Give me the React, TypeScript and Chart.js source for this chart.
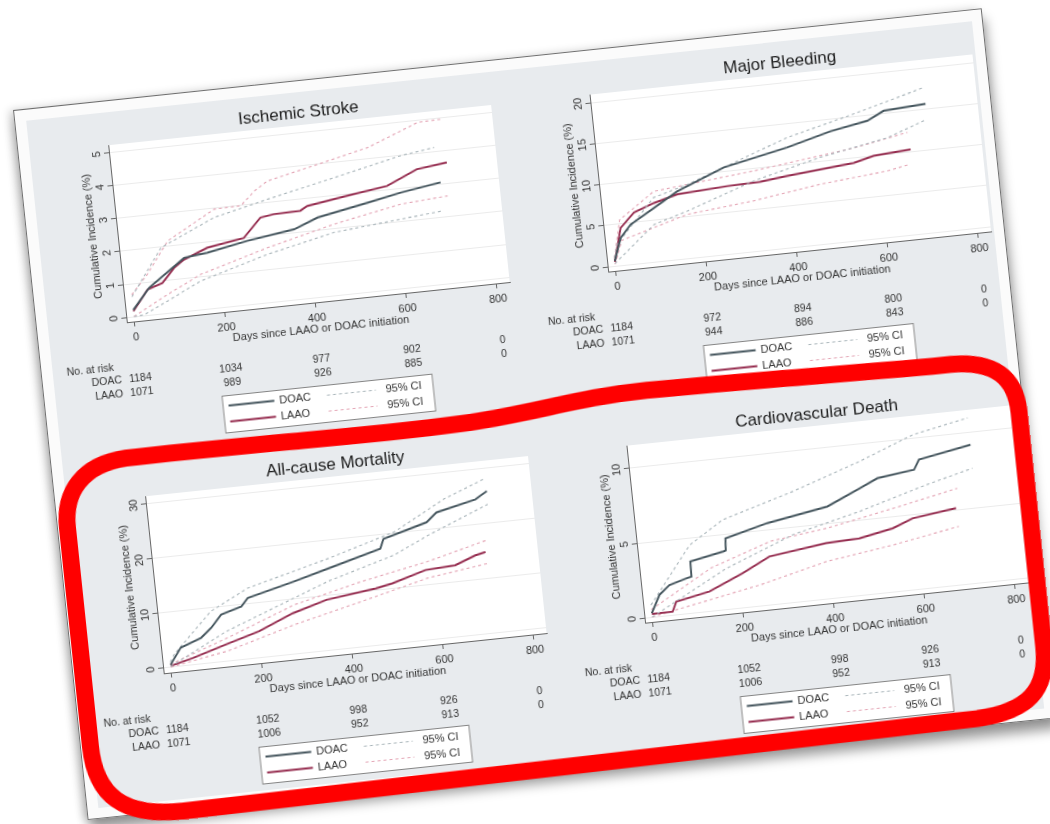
import { useEffect, useRef } from 'react';
import { Chart, registerables } from 'chart.js';

Chart.register(...registerables);

type Pt = [number, number];

// ---- shared axis / table labels ----
const DAY_TICKS = [0, 200, 400, 600, 800];
const RISK_DAYS = [0, 200, 400, 600, 800];
const GROUP_NAMES = ['DOAC', 'LAAO'];
const CI_LABEL = '95% CI';
const X_TITLE = 'Days since LAAO or DOAC initiation';
const Y_TITLE = 'Cumulative Incidence (%)';
const RISK_HEADER = 'No. at risk';

// ---- Ischemic stroke: [day, cumulative incidence %] ----
const strokeDoac: Pt[] = [[0, 0.2], [40, 0.82], [123, 1.61], [175, 1.69], [265, 1.92], [370, 2.12], [424, 2.4], [537, 2.69], [612, 2.89], [701, 3.07]];
const strokeDoacLo: Pt[] = [[0, 0], [23, 0.02], [77, 0.36], [154, 0.86], [306, 1.45], [457, 1.9], [695, 2.2]];
const strokeDoacHi: Pt[] = [[0, 0.6], [75, 1.99], [198, 2.73], [319, 3.11], [470, 3.55], [620, 4.0], [695, 4.14]];
const strokeLaao: Pt[] = [[0, 0.16], [36, 0.77], [70, 0.92], [99, 1.34], [123, 1.56], [176, 1.84], [258, 2.02], [299, 2.58], [329, 2.64], [388, 2.66], [404, 2.78], [493, 2.96], [583, 3.13], [652, 3.54], [719, 3.65]];
const strokeLaaoLo: Pt[] = [[0, 0], [79, 0.56], [156, 1.06], [308, 1.65], [459, 2.15], [609, 2.54], [713, 2.64]];
const strokeLaaoHi: Pt[] = [[0, 0.66], [39, 1.23], [91, 2.17], [200, 2.98], [259, 3.0], [292, 3.4], [323, 3.66], [436, 4.0], [550, 4.35], [665, 4.95], [720, 4.97]];
const strokeYTicks = [0, 1, 2, 3, 4, 5];
const strokeRiskDoac = [1184, 1034, 977, 902, 0];
const strokeRiskLaao = [1071, 989, 926, 885, 0];

// ---- Major bleeding ----
const bleedDoac: Pt[] = [[0, 0.6], [18, 3.3], [43, 4.8], [98, 6.5], [152, 8.2], [260, 10.5], [403, 12.1], [501, 13.5], [584, 14.3], [622, 15.3], [715, 15.6]];
const bleedDoacLo: Pt[] = [[0, 0.3], [94, 4.5], [170, 5.7], [322, 8.5], [473, 10.5], [624, 12.0], [708, 13.6]];
const bleedDoacHi: Pt[] = [[0, 1.0], [9, 2.6], [99, 7.75], [176, 8.9], [405, 13.3], [556, 15.3], [715, 17.6]];
const bleedLaao: Pt[] = [[0, 0.5], [20, 4.5], [53, 6.2], [99, 7.1], [152, 7.85], [263, 8.2], [336, 8.3], [396, 8.67], [545, 9.4], [590, 10.0], [672, 10.3]];
const bleedLaaoLo: Pt[] = [[0, 0.2], [20, 3.0], [169, 5.3], [318, 6.1], [467, 7.25], [616, 8.0], [665, 8.5]];
const bleedLaaoHi: Pt[] = [[0, 1.0], [20, 5.5], [101, 8.5], [324, 9.7], [549, 11.2], [669, 12.4]];
const bleedYTicks = [0, 5, 10, 15, 20];
const bleedRiskDoac = [1184, 972, 894, 800, 0];
const bleedRiskLaao = [1071, 944, 886, 843, 0];

// ---- All-cause mortality ----
const mortDoac: Pt[] = [[0, 0.5], [26, 3.4], [73, 4.8], [97, 6.4], [122, 8.6], [168, 9.7], [184, 11.1], [288, 13.2], [366, 14.9], [485, 17.5], [494, 19.2], [592, 21.4], [616, 23.0], [704, 24.6], [731, 25.9]];
const mortDoacLo: Pt[] = [[0, 0.2], [130, 5.5], [363, 12.6], [514, 16.1], [592, 19.0], [730, 23.5]];
const mortDoacHi: Pt[] = [[0, 1.0], [10, 2.3], [100, 9.4], [186, 12.9], [368, 16.7], [520, 20.3], [636, 25.3], [726, 28.1]];
const mortLaao: Pt[] = [[0, 0.3], [50, 1.3], [125, 3.1], [201, 4.9], [279, 7.5], [356, 9.3], [466, 10.4], [503, 11.0], [579, 12.8], [645, 13.1], [691, 14.5], [714, 14.9]];
const mortLaaoLo: Pt[] = [[0, 0.1], [128, 1.9], [280, 5.4], [431, 8.3], [582, 11.3], [716, 12.8]];
const mortLaaoHi: Pt[] = [[0, 0.6], [131, 4.3], [284, 9.0], [435, 11.9], [586, 14.3], [718, 17.0]];
const mortYTicks = [0, 10, 20, 30];
const mortRiskDoac = [1184, 1052, 998, 926, 0];
const mortRiskLaao = [1071, 1006, 952, 913, 0];

// ---- Cardiovascular death ----
const cvDoac: Pt[] = [[0, 0.25], [21, 1.42], [45, 2.0], [84, 2.33], [95, 2.4], [96, 3.42], [171, 3.85], [176, 3.9], [178, 4.7], [273, 5.42], [408, 6.1], [485, 7.1], [524, 7.63], [606, 7.94], [619, 8.57], [735, 9.2]];
const cvDoacLo: Pt[] = [[0, 0], [173, 2.7], [326, 4.47], [477, 5.55], [629, 6.85], [734, 7.63]];
const cvDoacHi: Pt[] = [[0, 0.8], [98, 4.5], [176, 5.95], [336, 7.34], [488, 8.86], [611, 10.26], [735, 11.0]];
const cvLaao: Pt[] = [[0, 0.2], [46, 0.21], [56, 0.85], [131, 1.29], [208, 2.27], [270, 3.19], [397, 3.68], [471, 3.77], [546, 4.2], [592, 4.73], [689, 5.1]];
const cvLaaoLo: Pt[] = [[0, 0], [244, 1.38], [395, 2.47], [545, 3.1], [691, 3.87]];
const cvLaaoHi: Pt[] = [[0, 0.5], [139, 2.83], [276, 4.2], [403, 4.67], [553, 5.53], [696, 6.4]];
const cvYTicks = [0, 5, 10];
const cvRiskDoac = [1184, 1052, 998, 926, 0];
const cvRiskLaao = [1071, 1006, 952, 913, 0];

// ---- styling ----
const FONT = '"Liberation Sans", Arial, Helvetica, sans-serif';
const TEXT_COLOR = '#333333';
const TITLE_COLOR = '#1c1c1c';
const AXIS_COLOR = '#666666';
const GRID_COLOR = '#ebebeb';
const DOAC_COLOR = '#44555d';
const LAAO_COLOR = '#952c4f';
const DOAC_CI_COLOR = '#a9b5ba';
const LAAO_CI_COLOR = '#e4a5b5';

// per-series look: DOAC, DOAC lower, DOAC upper, LAAO, LAAO lower, LAAO upper
const SERIES_STYLE = [
  { color: DOAC_COLOR, width: 1.9, dash: [] as number[] },
  { color: DOAC_CI_COLOR, width: 1.1, dash: [3, 3] },
  { color: DOAC_CI_COLOR, width: 1.1, dash: [3, 3] },
  { color: LAAO_COLOR, width: 1.9, dash: [] as number[] },
  { color: LAAO_CI_COLOR, width: 1.1, dash: [3, 3] },
  { color: LAAO_CI_COLOR, width: 1.1, dash: [3, 3] },
];
const SERIES_NAMES = ['DOAC', 'DOAC lower 95% CI', 'DOAC upper 95% CI', 'LAAO', 'LAAO lower 95% CI', 'LAAO upper 95% CI'];

// panel canvas geometry
const PANEL_W = 487;
const PANEL_H = 357;
const PLOT = { left: 90, top: 44, right: 475, bottom: 222 };
const X_MIN = -17;
const X_MAX = 829;

type PanelSpec = {
  key: string;
  title: string;
  left: number;
  top: number;
  yTicks: number[];
  yMin: number;
  yMax: number;
  curves: Pt[][];
  risk: number[][];
};

const PANELS: PanelSpec[] = [
  { key: 'stroke', title: 'Ischemic Stroke', left: 0, top: 0, yTicks: strokeYTicks, yMin: -0.15, yMax: 5.24,
    curves: [strokeDoac, strokeDoacLo, strokeDoacHi, strokeLaao, strokeLaaoLo, strokeLaaoHi], risk: [strokeRiskDoac, strokeRiskLaao] },
  { key: 'bleed', title: 'Major Bleeding', left: 484, top: 0, yTicks: bleedYTicks, yMin: -0.6, yMax: 20.97,
    curves: [bleedDoac, bleedDoacLo, bleedDoacHi, bleedLaao, bleedLaaoLo, bleedLaaoHi], risk: [bleedRiskDoac, bleedRiskLaao] },
  { key: 'mort', title: 'All-cause Mortality', left: 0, top: 353, yTicks: mortYTicks, yMin: -0.91, yMax: 31.45,
    curves: [mortDoac, mortDoacLo, mortDoacHi, mortLaao, mortLaaoLo, mortLaaoHi], risk: [mortRiskDoac, mortRiskLaao] },
  { key: 'cv', title: 'Cardiovascular Death', left: 484, top: 353, yTicks: cvYTicks, yMin: -0.33, yMax: 11.53,
    curves: [cvDoac, cvDoacLo, cvDoacHi, cvLaao, cvLaaoLo, cvLaaoHi], risk: [cvRiskDoac, cvRiskLaao] },
];

// Title, rotated y labels, axis titles, number-at-risk table and the boxed legend
function makeDecor(panel: PanelSpec) {
  return {
    id: 'panelDecor',
    beforeDraw(chart: any) {
      const { ctx, chartArea: a } = chart;
      ctx.save();
      ctx.fillStyle = '#ffffff';
      ctx.fillRect(a.left, a.top, a.right - a.left, a.bottom - a.top);
      ctx.restore();
    },
    afterDraw(chart: any) {
      const { ctx, chartArea: a } = chart;
      const xs = chart.scales.x;
      const ys = chart.scales.y;
      const cx = (a.left + a.right) / 2;
      ctx.save();
      ctx.textAlign = 'center';
      ctx.textBaseline = 'middle';

      ctx.fillStyle = TITLE_COLOR;
      ctx.font = `17px ${FONT}`;
      ctx.fillText(panel.title, cx, 32);

      ctx.fillStyle = TEXT_COLOR;
      ctx.font = `11px ${FONT}`;
      for (const v of panel.yTicks) {
        ctx.save();
        ctx.translate(a.left - 12, ys.getPixelForValue(v));
        ctx.rotate(-Math.PI / 2);
        ctx.fillText(String(v), 0, 0);
        ctx.restore();
      }
      ctx.save();
      ctx.translate(a.left - 25, (a.top + a.bottom) / 2);
      ctx.rotate(-Math.PI / 2);
      ctx.fillText(Y_TITLE, 0, 0);
      ctx.restore();

      for (const v of DAY_TICKS) ctx.fillText(String(v), xs.getPixelForValue(v), a.bottom + 15.5);
      ctx.fillText(X_TITLE, cx, a.bottom + 27);

      // number at risk
      ctx.font = `10.5px ${FONT}`;
      ctx.textAlign = 'left';
      ctx.fillText(RISK_HEADER, 25, a.bottom + 44);
      const rowY = [a.bottom + 57, a.bottom + 71];
      GROUP_NAMES.forEach((name, g) => {
        ctx.textAlign = 'right';
        ctx.fillText(name, 79, rowY[g]);
        ctx.textAlign = 'center';
        panel.risk[g].forEach((n, i) => ctx.fillText(String(n), xs.getPixelForValue(RISK_DAYS[i]), rowY[g]));
      });

      // legend box
      const bx = cx - 106;
      const by = a.bottom + 83;
      ctx.fillStyle = '#ffffff';
      ctx.fillRect(bx, by, 212, 38);
      ctx.strokeStyle = '#858585';
      ctx.lineWidth = 1;
      ctx.strokeRect(bx + 0.5, by + 0.5, 211, 37);
      const ds = chart.data.datasets;
      GROUP_NAMES.forEach((name, g) => {
        const y = by + 10.5 + g * 16;
        const solid = ds[g * 3];
        const ci = ds[g * 3 + 2];
        ctx.setLineDash([]);
        ctx.strokeStyle = solid.borderColor;
        ctx.lineWidth = solid.borderWidth;
        ctx.beginPath();
        ctx.moveTo(cx - 100, y);
        ctx.lineTo(cx - 54, y);
        ctx.stroke();
        ctx.setLineDash(ci.borderDash);
        ctx.strokeStyle = ci.borderColor;
        ctx.lineWidth = ci.borderWidth;
        ctx.beginPath();
        ctx.moveTo(cx - 1, y);
        ctx.lineTo(cx + 48, y);
        ctx.stroke();
        ctx.setLineDash([]);
        ctx.fillStyle = TEXT_COLOR;
        ctx.font = `11px ${FONT}`;
        ctx.textAlign = 'left';
        ctx.fillText(name, cx - 49, y);
        ctx.fillText(CI_LABEL, cx + 58, y);
      });
      ctx.restore();
    },
  };
}

function buildConfig(panel: PanelSpec): any {
  return {
    type: 'line',
    data: {
      datasets: panel.curves.map((c, i) => ({
        label: SERIES_NAMES[i],
        data: c.map(([x, y]) => ({ x, y })),
        borderColor: SERIES_STYLE[i].color,
        borderWidth: SERIES_STYLE[i].width,
        borderDash: SERIES_STYLE[i].dash,
        pointRadius: 0,
        fill: false,
        tension: 0,
      })),
    },
    options: {
      animation: false,
      responsive: false,
      maintainAspectRatio: false,
      devicePixelRatio: 1,
      events: [],
      layout: {
        padding: { left: PLOT.left, top: PLOT.top, right: PANEL_W - PLOT.right, bottom: PANEL_H - PLOT.bottom },
      },
      plugins: { legend: { display: false }, tooltip: { enabled: false }, title: { display: false } },
      scales: {
        x: {
          type: 'linear',
          min: X_MIN,
          max: X_MAX,
          afterBuildTicks: (s: any) => { s.ticks = DAY_TICKS.map((value) => ({ value })); },
          afterFit: (s: any) => { s.height = 0; },
          ticks: { display: false },
          grid: { drawOnChartArea: false, drawTicks: true, tickLength: 5, tickColor: AXIS_COLOR, color: AXIS_COLOR },
          border: { display: true, color: AXIS_COLOR, width: 1 },
        },
        y: {
          type: 'linear',
          min: panel.yMin,
          max: panel.yMax,
          afterBuildTicks: (s: any) => { s.ticks = panel.yTicks.map((value) => ({ value })); },
          afterFit: (s: any) => { s.width = 0; },
          ticks: { display: false },
          grid: { drawOnChartArea: true, drawTicks: true, tickLength: 5, tickColor: AXIS_COLOR, color: GRID_COLOR, lineWidth: 1 },
          border: { display: true, color: AXIS_COLOR, width: 1 },
        },
      },
    },
    plugins: [makeDecor(panel)],
  };
}

function Panel({ panel }: { panel: PanelSpec }) {
  const ref = useRef<HTMLCanvasElement | null>(null);
  useEffect(() => {
    if (!ref.current) return;
    const chart = new Chart(ref.current, buildConfig(panel));
    return () => chart.destroy();
  }, [panel]);
  return (
    <canvas
      ref={ref}
      width={PANEL_W}
      height={PANEL_H}
      style={{ position: 'absolute', left: panel.left, top: panel.top, width: PANEL_W, height: PANEL_H }}
    />
  );
}

// hand-drawn highlight around the lower row of panels
const HIGHLIGHT_PATH =
  'M 9.5 640 L 9.5 420 C 9.5 385 30 359 75 357 ' +
  'C 200 355 330 362 430 357 C 500 353 530 344 600 344 ' +
  'C 700 345 850 350 905 350 C 950 351 968 370 968 405 ' +
  'L 968 640 C 968 685 945 703 895 705 ' +
  'C 650 708 300 712 95 714 C 35 714 9.5 690 9.5 640 Z';

export default function App() {
  return (
    <div style={{ position: 'fixed', left: 0, top: 0, width: 1050, height: 824, overflow: 'hidden', background: '#ffffff' }}>
      <div
        style={{
          position: 'absolute',
          left: 13,
          top: 110,
          width: 974,
          height: 714,
          boxSizing: 'border-box',
          transform: 'rotate(-6deg)',
          transformOrigin: '0 0',
          background: '#fbfbfb',
          border: '1px solid #6f6f6f',
          boxShadow: '2px 11px 12px rgba(0,0,0,0.38), -4px 0 8px rgba(0,0,0,0.18)',
        }}
      >
        <div style={{ position: 'absolute', left: 11, top: 11, right: 10, bottom: 10, background: '#e8ebee' }} />
        {PANELS.map((p) => (
          <Panel key={p.key} panel={p} />
        ))}
        <svg
          width={974}
          height={714}
          style={{ position: 'absolute', left: 0, top: 0, overflow: 'visible', pointerEvents: 'none' }}
        >
          <path d={HIGHLIGHT_PATH} fill="none" stroke="#ff0000" strokeWidth={17} strokeLinejoin="round" />
        </svg>
      </div>
    </div>
  );
}
